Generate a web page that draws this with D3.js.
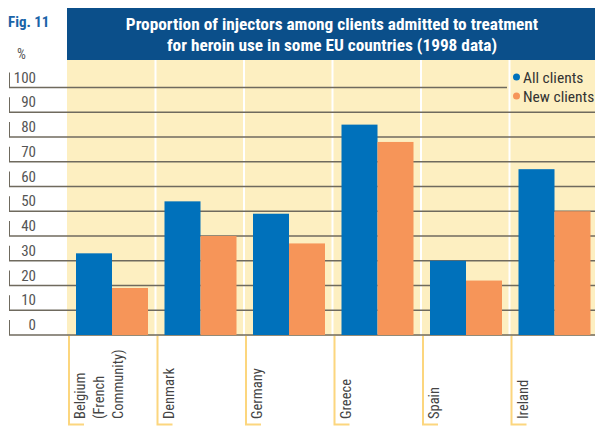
<!DOCTYPE html>
<html>
<head>
<meta charset="utf-8">
<script src="https://cdn.jsdelivr.net/npm/d3@7"></script>
<style>
  body { margin: 0; background: #fff; }
  svg text { font-family: "Liberation Sans Narrow", "Roboto Condensed", "Liberation Sans", sans-serif; }
</style>
</head>
<body>
<div id="chart"></div>
<script>
// data
let countries = ['Belgium', 'Denmark', 'Germany', 'Greece', 'Spain', 'Ireland'];
let countryLabels = [['Belgium', '(French', 'Community)'], ['Denmark'], ['Germany'], ['Greece'], ['Spain'], ['Ireland']];
let allClients = [33, 54, 49, 85, 30, 67];
let newClients = [19, 40, 37, 78, 22, 50];
let seriesNames = ['All clients', 'New clients'];
let seriesColors = ['#0071bb', '#f69559'];
let yTicks = [0, 10, 20, 30, 40, 50, 60, 70, 80, 90, 100];

let W = 595, H = 428;
let svg = d3.select('#chart').append('svg').attr('width', W).attr('height', H);

let x = d3.scaleBand().domain(countries).range([67, 598]).paddingInner(0).paddingOuter(0);
let xs = d3.scaleBand().domain(seriesNames).range([9, 81]);
let y = d3.scaleLinear().domain([0, 100]).range([335, 87.5]);

// title bar
svg.append('rect').attr('x', 67).attr('y', 8).attr('width', W - 67).attr('height', 52).attr('fill', '#0b4f8a');
svg.append('text').attr('x', 332).attr('y', 30).attr('text-anchor', 'middle')
  .attr('fill', '#fff').attr('font-weight', 'bold').attr('font-size', 17.3)
  .text('Proportion of injectors among clients admitted to treatment');
svg.append('text').attr('x', 332).attr('y', 51).attr('text-anchor', 'middle')
  .attr('fill', '#fff').attr('font-weight', 'bold').attr('font-size', 17.3)
  .text('for heroin use in some EU countries (1998 data)');
svg.append('text').attr('x', 8).attr('y', 27).attr('fill', '#1a64a8')
  .attr('font-weight', 'bold').attr('font-size', 15).text('Fig. 11');

// yellow plot background
svg.append('rect').attr('x', 67).attr('y', 60).attr('width', W - 67).attr('height', 276).attr('fill', '#fdefc1');
svg.selectAll('.sep').data(countries.slice(1)).enter().append('line')
  .attr('x1', d => x(d)).attr('x2', d => x(d)).attr('y1', 60).attr('y2', 336)
  .attr('stroke', '#fff').attr('stroke-width', 2);

// y grid + ticks
svg.append('text').attr('x', 17).attr('y', 59).attr('fill', '#555').attr('font-size', 14).text('%');
let grid = svg.append('g');
yTicks.forEach(t => {
  let yy = y(t);
  grid.append('line').attr('x1', 9).attr('x2', t === 100 ? 507 : W).attr('y1', yy).attr('y2', yy)
    .attr('stroke', '#6f6a5e').attr('stroke-width', 1.3);
  grid.append('line').attr('x1', 9.5).attr('x2', 9.5).attr('y1', yy - 15).attr('y2', yy)
    .attr('stroke', '#6f6a5e').attr('stroke-width', 1);
  grid.append('text').attr('x', 36).attr('y', yy - 5).attr('text-anchor', 'end')
    .attr('fill', '#555').attr('font-size', 15).text(t);
});

// bars
let groups = svg.selectAll('.grp').data(countries).enter().append('g')
  .attr('transform', d => 'translate(' + x(d) + ',0)');
groups.each(function (c, i) {
  let vals = [allClients[i], newClients[i]];
  d3.select(this).selectAll('rect').data(seriesNames).enter().append('rect')
    .attr('x', s => xs(s))
    .attr('width', xs.bandwidth())
    .attr('y', (s, j) => y(vals[j]))
    .attr('height', (s, j) => y(0) - y(vals[j]))
    .attr('fill', (s, j) => seriesColors[j]);
});

// category labels with bracket
groups.each(function (c, i) {
  let g = d3.select(this);
  g.append('path').attr('d', 'M2,336 V424.5 H17').attr('fill', 'none')
    .attr('stroke', '#fcd67e').attr('stroke-width', 2);
  countryLabels[i].forEach((ln, k) => {
    g.append('text').attr('transform', 'translate(' + (18 + k * 19) + ',419) rotate(-90)')
      .attr('fill', '#444').attr('font-size', 14.5).text(ln);
  });
});

// legend
seriesNames.forEach((s, j) => {
  svg.append('circle').attr('cx', 516.5).attr('cy', 77 + j * 19).attr('r', 3.5).attr('fill', seriesColors[j]);
  svg.append('text').attr('x', 523).attr('y', 83 + j * 19).attr('fill', '#333').attr('font-size', 15.5).text(s);
});
</script>
</body>
</html>
